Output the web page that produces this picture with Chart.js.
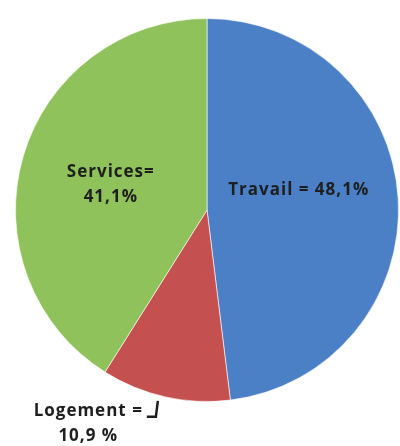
<!DOCTYPE html>
<html>
<head>
<meta charset="utf-8">
<script src="https://cdn.jsdelivr.net/npm/chart.js@4/dist/chart.umd.min.js"></script>
<style>
  html, body { margin: 0; padding: 0; background: #fff; }
  #wrap { width: 400px; height: 446px; }
</style>
</head>
<body>
<div id="wrap"><canvas id="pieChart" width="400" height="446"></canvas></div>
<script>
const categories = ["Travail", "Logement", "Services"];
const shares = [48.1, 10.9, 41.1];
const labelLines = [["Travail = 48,1%"], ["Logement =", "10,9 %"], ["Services=", "41,1%"]];
const sliceColors = ["#4b80c6", "#c4504f", "#8fc25a"];

// where each label block sits: angle from top (deg, clockwise) and radius fraction
const labelPlace = [
  { angle: 77.7, r: 0.49 },
  { angle: 209.1, r: 1.275 },
  { angle: 285, r: 0.52 }
];

const sliceLabels = {
  id: "sliceLabels",
  afterDatasetsDraw(chart) {
    const ctx = chart.ctx;
    const arc = chart.getDatasetMeta(0).data[0];
    const cx = arc.x, cy = arc.y, R = arc.outerRadius;
    ctx.save();
    ctx.font = "bold 17px 'Open Sans', sans-serif";
    ctx.letterSpacing = "1px";
    ctx.fillStyle = "#1e1e1e";
    ctx.textAlign = "center";
    ctx.textBaseline = "middle";
    labelLines.forEach((lines, i) => {
      const a = labelPlace[i].angle * Math.PI / 180;
      const x = cx + Math.sin(a) * R * labelPlace[i].r;
      const y = cy - Math.cos(a) * R * labelPlace[i].r;
      const y0 = y - (lines.length - 1) * 12.5;
      lines.forEach((t, k) => {
        ctx.fillText(t, x, y0 + k * 25);
      });
      if (i === 1) {
        // small leader line from the label to the slice
        const w = ctx.measureText(lines[0]).width;
        const lx = x + w / 2 + 4;
        ctx.strokeStyle = "#1e1e1e";
        ctx.lineWidth = 2.5;
        ctx.beginPath();
        ctx.moveTo(lx, y0 + 6);
        ctx.lineTo(lx + 9, y0 + 6);
        ctx.lineTo(lx + 11, y0 - 10);
        ctx.stroke();
      }
    });
    ctx.restore();
  }
};

new Chart(document.getElementById("pieChart").getContext("2d"), {
  type: "pie",
  data: {
    labels: categories,
    datasets: [{
      data: shares,
      backgroundColor: sliceColors,
      borderColor: "rgba(255,255,255,0.6)",
      borderWidth: 1
    }]
  },
  options: {
    responsive: false,
    animation: false,
    layout: { padding: { left: 15, right: 1, top: 18, bottom: 44 } },
    plugins: {
      legend: { display: false },
      tooltip: { enabled: false }
    }
  },
  plugins: [sliceLabels]
});
</script>
</body>
</html>
